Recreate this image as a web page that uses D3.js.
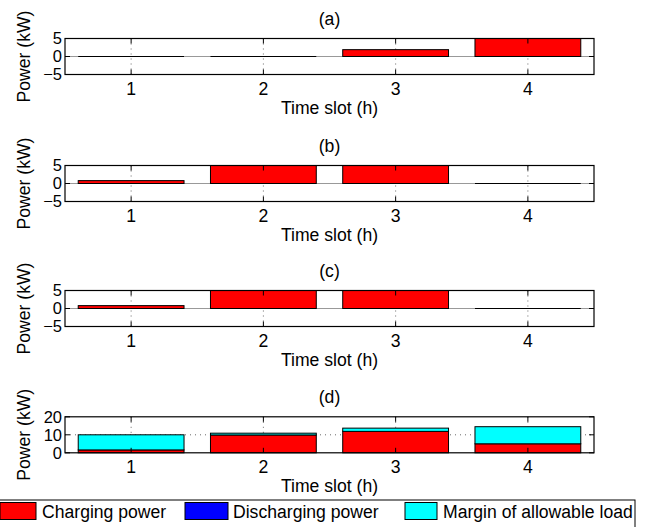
<!DOCTYPE html>
<html>
<head>
<meta charset="utf-8">
<script src="https://cdn.jsdelivr.net/npm/d3@7"></script>
<style>
  body { margin: 0; background: #fff; }
  text { font-family: "Liberation Sans", Arial, sans-serif; font-size: 17.6px; fill: #000; }
  text.yt { font-size: 16.5px; }
</style>
</head>
<body>
<script>
// data
var slots = [1, 2, 3, 4];
var chargeA = [0, 0, 1.9, 5];
var chargeB = [0.8, 5, 5, 0];
var chargeC = [0.8, 5, 5, 0];
var chargeD = [1.6, 9.9, 11.9, 5];
var dischargeD = [0, 0, 0, 0];
var marginD = [8.4, 1.0, 1.8, 9.5];
var ticksSmall = [-5, 0, 5];
var ticksLarge = [0, 10, 20];
var seriesNames = ['Charging power', 'Discharging power', 'Margin of allowable load'];
var seriesColors = ['#ff0000', '#0000ff', '#00ffff'];

var width = 652, height = 527;

var svg = d3.select('body').append('svg')
  .attr('width', width)
  .attr('height', height);

var left = 65, right = 594, boxH = 36;

var x = d3.scaleLinear().domain([0.5, 4.5]).range([left, right]);

//one entry per subplot
var panels = [
  {title: '(a)', top: 38.5, domain: [-5, 5], ticks: ticksSmall, stacks: [chargeA]},
  {title: '(b)', top: 165.5, domain: [-5, 5], ticks: ticksSmall, stacks: [chargeB]},
  {title: '(c)', top: 290.5, domain: [-5, 5], ticks: ticksSmall, stacks: [chargeC]},
  {title: '(d)', top: 416.8, domain: [0, 20], ticks: ticksLarge, stacks: [chargeD, dischargeD, marginD]}
];

panels.forEach(function(p) {
  var g = svg.append('g');
  var y = d3.scaleLinear().domain(p.domain).range([p.top + boxH, p.top]);
  var bottom = p.top + boxH;

  //grid, dotted
  g.selectAll('line.vgrid').data(slots).enter().append('line')
    .attr('x1', function(d) { return x(d); })
    .attr('x2', function(d) { return x(d); })
    .attr('y1', p.top).attr('y2', bottom)
    .attr('stroke', '#444').attr('stroke-width', 0.8)
    .attr('stroke-dasharray', '1,4');
  g.selectAll('line.hgrid').data(p.ticks.slice(1, -1)).enter().append('line')
    .attr('x1', left).attr('x2', right)
    .attr('y1', function(d) { return y(d); })
    .attr('y2', function(d) { return y(d); })
    .attr('stroke', '#444').attr('stroke-width', 0.8)
    .attr('stroke-dasharray', '1,4');

  //bar baseline at zero
  if (p.domain[0] < 0) {
    g.append('line')
      .attr('x1', left).attr('x2', right)
      .attr('y1', y(0)).attr('y2', y(0))
      .attr('stroke', '#999').attr('stroke-width', 1);
  }

  //stacked bars
  var stackData = slots.map(function(s, i) {
    var o = {slot: s};
    p.stacks.forEach(function(arr, k) { o['s' + k] = arr[i]; });
    return o;
  });
  var keys = p.stacks.map(function(a, k) { return 's' + k; });
  var layers = d3.stack().keys(keys)(stackData);
  var bw = x(1.4) - x(0.6);

  layers.forEach(function(layer, k) {
    var drawn = layer.filter(function(d) { return d[1] - d[0] > 0; });
    g.selectAll('rect.l' + k).data(drawn).enter().append('rect')
      .attr('x', function(d) { return x(d.data.slot - 0.4); })
      .attr('width', bw)
      .attr('y', function(d) { return y(d[1]); })
      .attr('height', function(d) { return y(d[0]) - y(d[1]); })
      .attr('fill', seriesColors[k])
      .attr('stroke', '#000').attr('stroke-width', 1);
    //zero height bars show up as a flat edge
    if (k === 0) {
      var flat = layer.filter(function(d) { return d[1] - d[0] === 0; });
      g.selectAll('line.z').data(flat).enter().append('line')
        .attr('x1', function(d) { return x(d.data.slot - 0.4); })
        .attr('x2', function(d) { return x(d.data.slot + 0.4); })
        .attr('y1', function(d) { return y(d[0]); })
        .attr('y2', function(d) { return y(d[0]); })
        .attr('stroke', '#000').attr('stroke-width', 1.2);
    }
  });

  //box
  g.append('rect')
    .attr('x', left).attr('y', p.top)
    .attr('width', right - left).attr('height', boxH)
    .attr('fill', 'none').attr('stroke', '#000').attr('stroke-width', 1.2);

  //inward ticks
  slots.forEach(function(s) {
    g.append('line').attr('x1', x(s)).attr('x2', x(s))
      .attr('y1', bottom).attr('y2', bottom - 5).attr('stroke', '#000');
    g.append('line').attr('x1', x(s)).attr('x2', x(s))
      .attr('y1', p.top).attr('y2', p.top + 5).attr('stroke', '#000');
  });
  p.ticks.forEach(function(t) {
    g.append('line').attr('x1', left).attr('x2', left + 5)
      .attr('y1', y(t)).attr('y2', y(t)).attr('stroke', '#000');
    g.append('line').attr('x1', right).attr('x2', right - 5)
      .attr('y1', y(t)).attr('y2', y(t)).attr('stroke', '#000');
  });

  //tick labels
  g.selectAll('text.xt').data(slots).enter().append('text')
    .attr('class', 'xt')
    .attr('x', function(d) { return x(d); })
    .attr('y', bottom + 20.5)
    .attr('text-anchor', 'middle')
    .text(function(d) { return d; });
  g.selectAll('text.yt').data(p.ticks).enter().append('text')
    .attr('class', 'yt')
    .attr('x', left - 3)
    .attr('y', function(d) { return y(d); })
    .attr('dy', '0.36em')
    .attr('text-anchor', 'end')
    .text(d3.format('d'));

  //titles and labels
  g.append('text')
    .attr('x', (left + right) / 2).attr('y', p.top - 14)
    .attr('text-anchor', 'middle').text(p.title);
  g.append('text')
    .attr('x', (left + right) / 2).attr('y', bottom + 39)
    .attr('text-anchor', 'middle').text('Time slot (h)');
  g.append('text')
    .attr('transform', 'translate(30,' + (p.top + boxH / 2) + ') rotate(-90)')
    .attr('text-anchor', 'middle').text('Power (kW)');
});

//legend along the bottom
var legend = svg.append('g');
legend.append('rect')
  .attr('x', -1).attr('y', 500)
  .attr('width', 636).attr('height', 40)
  .attr('fill', '#fff').attr('stroke', '#000').attr('stroke-width', 1);

var legendPos = [
  {sx: 0, sw: 36, tx: 42},
  {sx: 185, sw: 43, tx: 233},
  {sx: 405, sw: 32, tx: 443}
];
seriesNames.forEach(function(name, i) {
  var lp = legendPos[i];
  legend.append('rect')
    .attr('x', lp.sx).attr('y', 502.5)
    .attr('width', lp.sw).attr('height', 17)
    .attr('fill', seriesColors[i]).attr('stroke', '#000').attr('stroke-width', 1);
  legend.append('text')
    .attr('x', lp.tx).attr('y', 518)
    .text(name);
});
</script>
</body>
</html>
